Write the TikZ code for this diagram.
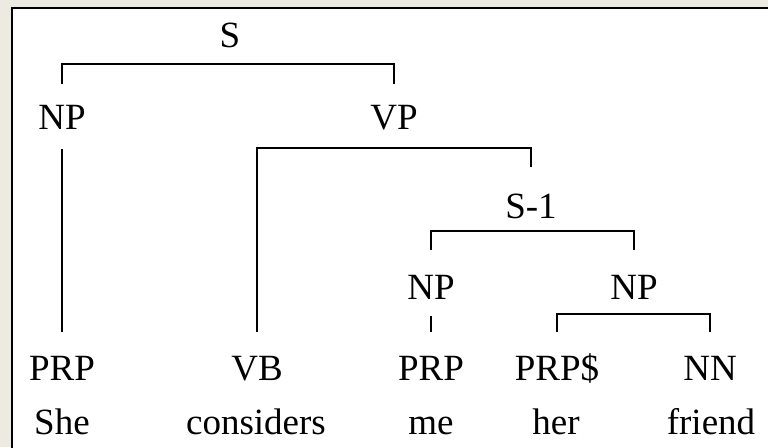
\documentclass[tikz,border=0pt]{standalone}
\usepackage{fontspec}
\setmainfont{Liberation Serif}
\usetikzlibrary{calc}
\definecolor{slidebg}{RGB}{237,234,225}
\tikzset{
    tag/.style={inner sep=0pt, text height=24pt, text depth=0pt, anchor=base,
        font=\fontsize{37}{44}\selectfont},
    branch/.style={draw=black, shorten <=23pt, shorten >=23pt},
}

\begin{document}
\begin{tikzpicture}[x=1pt, y=-1pt, line width=2pt]
%FRAME
\useasboundingbox (0,0) rectangle (768,447);
\clip (0,0) rectangle (768,447);
\fill[slidebg] (0,0) rectangle (768,447);
\filldraw[fill=white, draw=black, line width=2.5pt] (12,8) rectangle (790,470);

%PHRASES
\node[tag] (s) at (230,47) {S};
\node[tag] (np) at (62,129) {NP};
\node[tag] (vp) at (394,129) {VP};
\node[tag] (sone) at (531,218) {S-1};
\node[tag] (npme) at (431,299) {NP};
\node[tag] (npfriend) at (634,299) {NP};

%TAGS
\node[tag] (prpshe) at (62,380) {PRP};
\node[tag] (vb) at (257,380) {VB};
\node[tag] (prpme) at (431,380) {PRP};
\node[tag] (prpher) at (557,380) {PRP\$};
\node[tag] (nn) at (710,380) {NN};

%WORDS
\node[tag] (she) at (62,434) {She};
\node[tag] (considers) at (256,434) {considers};
\node[tag] (me) at (431,434) {me};
\node[tag] (her) at (556,434) {her};
\node[tag] (friend) at (711,434) {friend};

%BRANCHES
\draw [branch, shorten <=20pt, shorten >=20pt] (np.north) |- ($(s.south)+(0,16)$) -| (vp.north);
\draw [branch, shorten >=26pt] (vb.north) |- ($(vp.south)+(0,18)$) -| (sone.north);
\draw [branch, shorten <=24pt, shorten >=24pt] (npme.north) |- ($(sone.south)+(0,12)$) -| (npfriend.north);
\draw [branch, shorten <=19pt] (np.south) -- (prpshe.north);
\draw [branch, shorten <=16pt] (npme.south) -- (prpme.north);
\draw [branch] (prpher.north) |- ($(npfriend.south)+(0,14)$) -| (nn.north);
\end{tikzpicture}
\end{document}
